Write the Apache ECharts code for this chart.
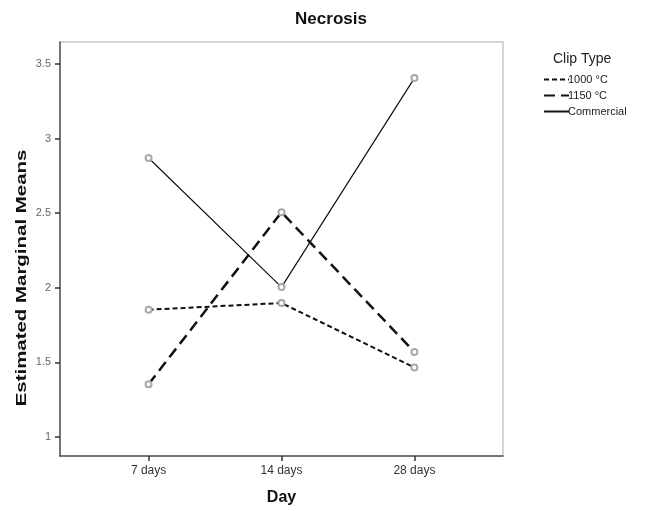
<!DOCTYPE html>
<html>
<head>
<meta charset="utf-8">
<script src="https://cdn.jsdelivr.net/npm/echarts@6/dist/echarts.min.js"></script>
<style>
html,body{margin:0;padding:0;background:#fff;}
#c{width:647px;height:511px;}
</style>
</head>
<body>
<div id="c"></div>
<script>
const categories = ['7 days', '14 days', '28 days'];
const seriesNames = ['1000 °C', '1150 °C', 'Commercial'];
const values1000 = [1.853, 1.898, 1.466];
const values1150 = [1.354, 2.506, 1.570];
const valuesCommercial = [2.870, 2.005, 3.405];
const yTicks = [1, 1.5, 2, 2.5, 3, 3.5];

const toPts = vals => vals.map((v, i) => [i + 1, v]);
const font = 'Liberation Sans, Arial, sans-serif';

const chart = echarts.init(document.getElementById('c'), null, {renderer: 'canvas'});

function mk(name, vals, lineStyle) {
  return {
    name: name,
    type: 'line',
    data: toPts(vals),
    symbol: 'emptyCircle',
    symbolSize: 6,
    itemStyle: {color: '#a8a8a8', borderColor: '#a8a8a8', borderWidth: 1},
    lineStyle: lineStyle,
    z: 3
  };
}

chart.setOption({
  animation: false,
  backgroundColor: '#fff',
  title: {
    text: 'Necrosis',
    left: 326, textAlign: 'center', top: 6,
    textStyle: {fontFamily: font, fontWeight: 'bold', fontSize: 17, color: '#111'}
  },
  legend: {
    orient: 'vertical',
    left: 538, top: 69,
    itemWidth: 25, itemHeight: 10, itemGap: 5,
    data: seriesNames,
    textStyle: {fontFamily: font, fontSize: 11, color: '#222', padding: [0, 0, 0, -6]},
    itemStyle: {opacity: 0}
  },
  graphic: [{
    type: 'text', left: 553, top: 52,
    style: {text: 'Clip Type', font: '14px Liberation Sans, Arial, sans-serif', fill: '#222'}
  }, {
    type: 'text', x: 22, y: 278, rotation: Math.PI / 2, scaleX: 1.46,
    style: {
      text: 'Estimated Marginal Means', font: 'bold 14px Liberation Sans, Arial, sans-serif',
      fill: '#111', align: 'center', verticalAlign: 'middle'
    }
  }],
  grid: {left: 60, right: 144, top: 42, bottom: 54, show: true, borderColor: '#c8c8c8', borderWidth: 1.5},
  xAxis: {
    type: 'value',
    min: 1/3, max: 3 + 2/3,
    name: 'Day', nameLocation: 'middle', nameGap: 34,
    nameTextStyle: {fontFamily: font, fontWeight: 'bold', fontSize: 16, color: '#111'},
    axisLine: {show: true, lineStyle: {color: '#555', width: 1.5}},
    axisTick: {show: true, customValues: [1, 2, 3], length: 5, lineStyle: {color: '#333', width: 1.5}},
    axisLabel: {
      customValues: [1, 2, 3], margin: 9,
      formatter: v => categories[Math.round(v) - 1] || '',
      fontFamily: font, fontSize: 12, color: '#333'
    },
    splitLine: {show: false}
  },
  yAxis: {
    type: 'value',
    min: 0.873, max: 3.647,
    axisLine: {show: true, lineStyle: {color: '#555', width: 1.5}},
    axisTick: {show: true, customValues: yTicks, length: 5, lineStyle: {color: '#333', width: 1.5}},
    axisLabel: {customValues: yTicks, margin: 9, fontFamily: font, fontSize: 11, color: '#666'},
    splitLine: {show: false}
  },
  series: [
    mk(seriesNames[0], values1000, {color: '#111', width: 2, type: [5, 3]}),
    mk(seriesNames[1], values1150, {color: '#111', width: 2.5, type: [11, 6]}),
    mk(seriesNames[2], valuesCommercial, {color: '#111', width: 1.2, type: 'solid'})
  ]
});
</script>
</body>
</html>
